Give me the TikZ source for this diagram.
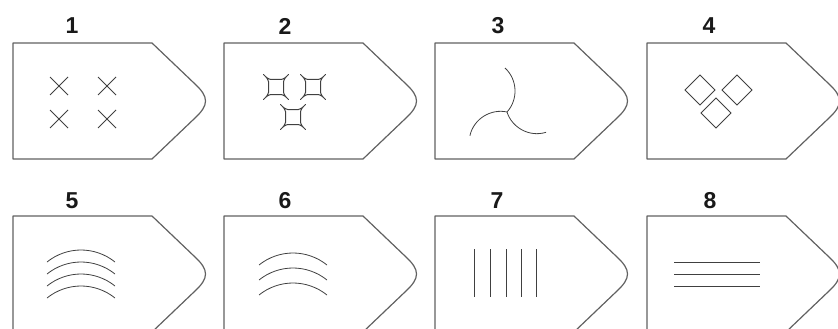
\documentclass[tikz,border=0pt]{standalone}
\usepackage{fontspec}
\setmainfont{Liberation Sans}
\begin{document}
\begin{tikzpicture}[x=1pt,y=-1pt,
  boxline/.style={draw=black!62,line width=1.2pt,line join=round},
  symline/.style={draw=black!75,line width=0.8pt},
  numlabel/.style={font=\fontsize{23}{23}\selectfont\bfseries,text=black!90,inner sep=0pt}]
\useasboundingbox (0,0) rectangle (838,329);
% box outlines
\foreach \bx/\by [count=\i] in {13/43,224/43,435/43,647/43,13/216,224/216,435/216,647/216}{
  \draw[boxline] (\bx+139,\by) -- (\bx,\by) -- (\bx,\by+116) -- (\bx+139,\by+116)
    -- (\bx+182,\by+75) .. controls (\bx+196,\by+62) and (\bx+196,\by+54) .. (\bx+182,\by+41) -- cycle;
}
% labels
\node[numlabel] (n1) at (72,26) {1};
\node[numlabel] (n2) at (285,26) {2};
\node[numlabel] (n3) at (498,26) {3};
\node[numlabel] (n4) at (709,26) {4};
\node[numlabel] (n5) at (72,201) {5};
\node[numlabel] (n6) at (285,201) {6};
\node[numlabel] (n7) at (497,201) {7};
\node[numlabel] (n8) at (710,201) {8};
% 1: crosses
\foreach \cx/\cy in {59/86,107/86,59/119,107/119}{
  \draw[symline] (\cx-9,\cy-9) -- (\cx+9,\cy+9) (\cx-9,\cy+9) -- (\cx+9,\cy-9);
}
% 2: four-pointed stars (square with short corner spikes)
\foreach \cx/\cy in {276/87,313/87,293/117}{
  \begin{scope}[shift={(\cx,\cy)}]
  \draw[symline,line width=1pt,line join=round]
    (-12.5,-12.5) .. controls (-8.5,-8.5) .. (-5.5,-7.5) -- (5.5,-7.5) .. controls (8.5,-8.5) .. (12.5,-12.5)
    .. controls (8.5,-8.5) .. (7.5,-5.5) -- (7.5,5.5) .. controls (8.5,8.5) .. (12.5,12.5)
    .. controls (8.5,8.5) .. (5.5,7.5) -- (-5.5,7.5) .. controls (-8.5,8.5) .. (-12.5,12.5)
    .. controls (-8.5,8.5) .. (-7.5,5.5) -- (-7.5,-5.5) .. controls (-8.5,-8.5) .. cycle;
  \end{scope}
}
% 3: tripod of arcs
\foreach \a in {0,120,240}{
  \begin{scope}[shift={(507,112)},rotate=\a]
    \draw[symline] (0,0) .. controls (11,-12) and (11,-32) .. (-2,-44);
  \end{scope}
}
% 4: diamonds
\foreach \cx/\cy in {700/90,737/90,716/113}{
  \draw[symline] (\cx-15,\cy) -- (\cx,\cy-15) -- (\cx+15,\cy) -- (\cx,\cy+15) -- cycle;
}
% 5: four arcs
\foreach \py in {250,262,274,286}{
  \draw[symline] (47,\py+12) .. controls (67,\py-4) and (95,\py-4) .. (115,\py+12);
}
% 6: three arcs
\foreach \py in {253,268,283}{
  \draw[symline] (259,\py+12) .. controls (279,\py-4) and (307,\py-4) .. (327,\py+12);
}
% 7: vertical lines
\foreach \lx in {474,490,506,521,536}{
  \draw[symline] (\lx,249) -- (\lx,297);
}
% 8: horizontal lines
\foreach \ly in {262,274,286}{
  \draw[symline] (674,\ly) -- (760,\ly);
}
\end{tikzpicture}
\end{document}
